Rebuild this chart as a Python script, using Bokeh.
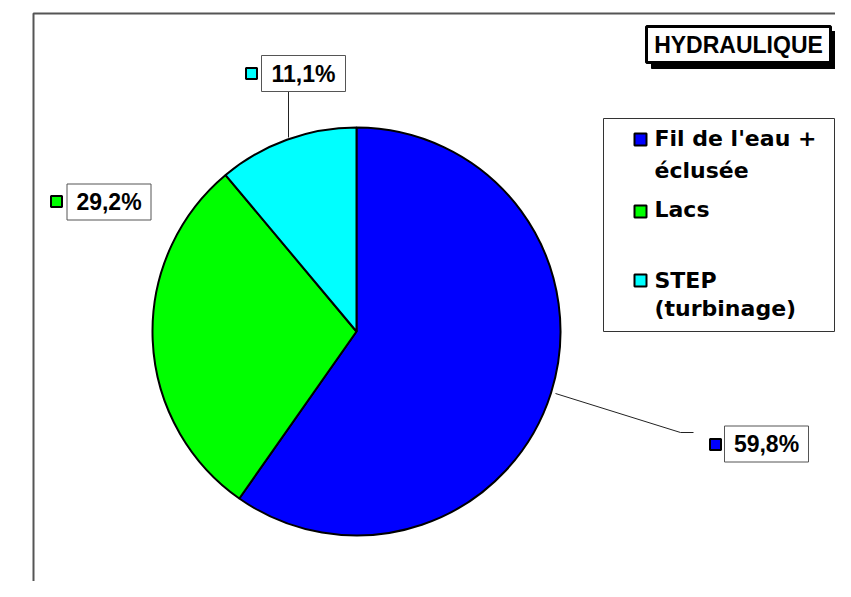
import numpy as np
from bokeh.plotting import figure
from bokeh.models import Range1d
from bokeh.core.properties import value
from bokeh.embed import file_html
from bokeh.resources import INLINE

# ---------------- data ----------------
categories = ["Fil de l'eau + éclusée", "Lacs", "STEP (turbinage)"]
legend_lines = [["Fil de l'eau +", "éclusée"], ["Lacs"], ["STEP", "(turbinage)"]]
shares = [59.8, 29.2, 11.1]
colors = ["#0000FF", "#00FF00", "#00FFFF"]
title = "HYDRAULIQUE"

# ---------------- layout ----------------
W, H = 835, 581


def Y(sy):
    """picture pixel y -> data y"""
    return 597 - np.asarray(sy, dtype=float)


FONT = value("Liberation Sans")
LFONT = value("DejaVu Sans")

p = figure(width=W, height=H, x_range=Range1d(0, W), y_range=Range1d(597 - H, 597),
           output_backend="svg", toolbar_location=None, min_border=0)
p.axis.visible = False
p.grid.visible = False
p.outline_line_color = None
p.background_fill_color = "white"
p.border_fill_color = "white"

# outer frame (right and bottom edges lie beyond the view)
p.quad(left=33, right=1000, top=float(Y(13)), bottom=float(Y(800)), fill_color=None,
       line_color="#555555", line_width=2)

# pie
cx, cy, R = 356, 331, 204
fr = np.array(shares) / sum(shares)
cum = np.concatenate([[0.0], np.cumsum(fr)])
start = np.pi / 2 - 2 * np.pi * cum[:-1]
end = np.pi / 2 - 2 * np.pi * cum[1:]
p.wedge(x=cx, y=float(Y(cy)), radius=R, start_angle=start, end_angle=end,
        direction="clock", fill_color=colors, line_color="black", line_width=2)

# leader lines
p.multi_line(xs=[[555, 680, 693], [288, 288]],
             ys=[list(Y([393, 432, 432])), list(Y([137, 91]))],
             line_color="#222222", line_width=1)

# data labels
label_text = [f"{v:.1f}".replace(".", ",") + "%" for v in shares]
label_x = [766, 108.5, 303]
label_y = list(Y([443.5, 201.5, 73]))
mark_x = [715, 56, 251]
mark_y = list(Y([444, 201, 73]))
p.rect(x=label_x, y=label_y, width=84, height=36, fill_color="white",
       line_color="#555555", line_width=1)
p.rect(x=mark_x, y=mark_y, width=11, height=11, fill_color=colors,
       line_color="black", line_width=2)
p.text(x=label_x, y=label_y, text=label_text, text_font=FONT, text_font_style="bold",
       text_font_size="23px", text_align="center", text_baseline="middle",
       text_color="black")

# legend
p.quad(left=603, right=834, top=float(Y(118)), bottom=float(Y(331)), fill_color="white",
       line_color="#333333", line_width=1)
leg_mark_y = list(Y([139, 211, 280]))
p.rect(x=[640] * 3, y=leg_mark_y, width=12, height=12, fill_color=colors,
       line_color="black", line_width=2)
centers = [[138, 170], [209], [280, 308]]
lx, ly, lt = [], [], []
for lines, cs in zip(legend_lines, centers):
    for t, c in zip(lines, cs):
        lx.append(654)
        ly.append(float(Y(c)))
        lt.append(t)
p.text(x=lx, y=ly, text=lt, text_font=LFONT, text_font_style="bold",
       text_font_size="22px", text_align="left", text_baseline="middle",
       text_color="black")

# title box with shadow
p.quad(left=651, right=835, top=float(Y(31)), bottom=float(Y(68)), fill_color="black",
       line_color="black")
p.quad(left=646, right=830, top=float(Y(26)), bottom=float(Y(62)), fill_color="white",
       line_color="black", line_width=3)
p.text(x=[738], y=[float(Y(44))], text=[title], text_font=FONT, text_font_style="bold",
       text_font_size="23px", text_align="center", text_baseline="middle",
       text_color="black")

open("out.html", "w").write(file_html(p, INLINE))
